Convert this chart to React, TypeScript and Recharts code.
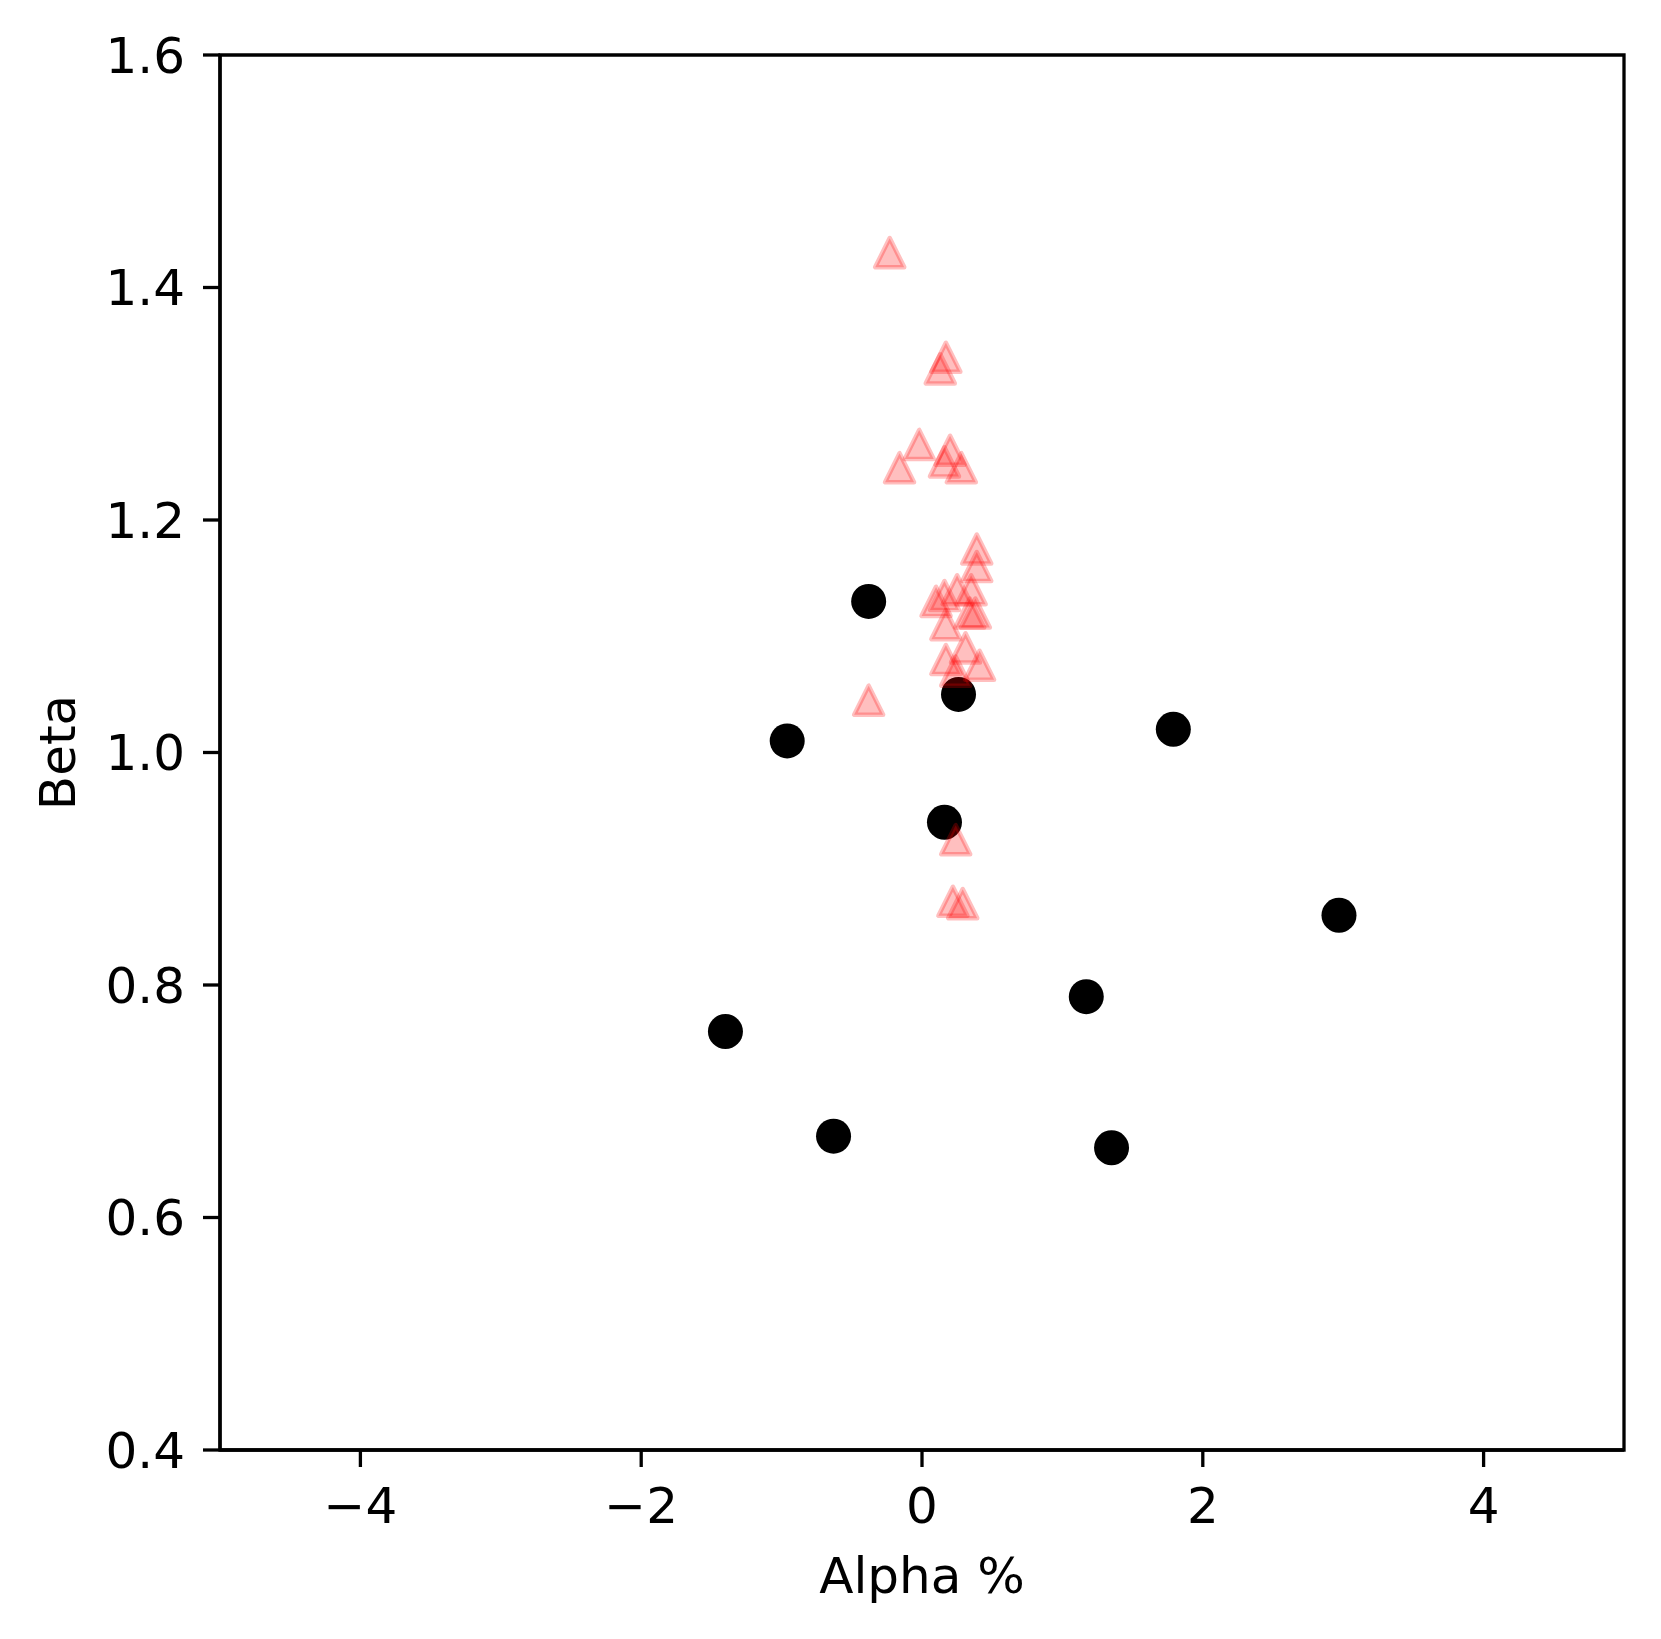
import { ReferenceArea, Scatter, ScatterChart, XAxis, YAxis } from 'recharts';

const circleAlpha = [-0.38, 0.26, -0.96, 1.79, 0.16, 2.97, 1.17, -1.4, -0.63, 1.35];
const circleBeta = [1.13, 1.05, 1.01, 1.02, 0.94, 0.86, 0.79, 0.76, 0.67, 0.66];

const triangleAlpha = [
  -0.23, 0.17, 0.13, -0.02, -0.16, 0.2, 0.16, 0.28, 0.39, 0.39, 0.25, 0.16, 0.1,
  0.35, 0.34, 0.38, 0.17, 0.31, 0.17, 0.41, 0.24, -0.38, 0.24, 0.22, 0.29
];
const triangleBeta = [
  1.43, 1.34, 1.33, 1.265, 1.245, 1.26, 1.25, 1.245, 1.175, 1.16, 1.14, 1.135, 1.13,
  1.14, 1.12, 1.12, 1.11, 1.09, 1.08, 1.075, 1.07, 1.045, 0.925, 0.872, 0.87
];

const xTicks = [-4, -2, 0, 2, 4];
const yTicks = [0.4, 0.6, 0.8, 1.0, 1.2, 1.4, 1.6];

const FONT = '"DejaVu Sans", sans-serif';

const circles = circleAlpha.map((a, i) => ({ alpha: a, beta: circleBeta[i] }));
const triangles = triangleAlpha.map((a, i) => ({ alpha: a, beta: triangleBeta[i] }));

function Triangle(props: any) {
  const { cx, cy } = props;
  const h = 14.5;
  return (
    <path
      d={`M${cx},${cy - h}L${cx - h},${cy + h}L${cx + h},${cy + h}Z`}
      fill="#ff0000"
      fillOpacity={0.25}
      stroke="#ff0000"
      strokeOpacity={0.25}
      strokeWidth={4.5}
      strokeLinejoin="round"
    />
  );
}

function Dot(props: any) {
  return <circle cx={props.cx} cy={props.cy} r={17.5} fill="#000" />;
}

const tickStyle = { fill: '#000', fontSize: 50, fontFamily: FONT };

export default function App() {
  return (
    <div style={{ width: 1645, height: 1623 }}>
      <ScatterChart width={1645} height={1623} margin={{ top: 47, right: 29, bottom: 31, left: 0 }}>
        <XAxis
          type="number"
          dataKey="alpha"
          domain={[-5, 5]}
          ticks={xTicks}
          interval={0}
          allowDataOverflow
          height={150}
          tickSize={17}
          tickMargin={20}
          tick={tickStyle}
          tickLine={{ stroke: '#000', strokeWidth: 3.3 }}
          axisLine={{ stroke: '#000', strokeWidth: 3.3 }}
          tickFormatter={(v: number) => String(v).replace('-', '\u2212')}
          label={{
            content: ({ viewBox }: any) => (
              <text
                x={viewBox.x + viewBox.width / 2}
                y={viewBox.y + 143}
                textAnchor="middle"
                fontSize={50}
                fontFamily={FONT}
                fill="#000"
              >
                Alpha %
              </text>
            )
          }}
        />
        <YAxis
          type="number"
          dataKey="beta"
          domain={[0.4, 1.6]}
          ticks={yTicks}
          interval={0}
          allowDataOverflow
          width={212}
          tickSize={17}
          tickMargin={18}
          tick={tickStyle}
          tickLine={{ stroke: '#000', strokeWidth: 3.3 }}
          axisLine={{ stroke: '#000', strokeWidth: 3.3 }}
          tickFormatter={(v: number) => v.toFixed(1)}
          label={{
            content: ({ viewBox }: any) => {
              const x = viewBox.x + 67;
              const y = viewBox.y + viewBox.height / 2;
              return (
                <text
                  x={x}
                  y={y}
                  transform={`rotate(-90, ${x}, ${y})`}
                  textAnchor="middle"
                  fontSize={50}
                  fontFamily={FONT}
                  fill="#000"
                >
                  Beta
                </text>
              );
            }
          }}
        />
        <ReferenceArea x1={-5} x2={5} y1={0.4} y2={1.6} fill="none" stroke="#000" strokeWidth={3.3} fillOpacity={0} strokeOpacity={1} />
        <Scatter data={circles} shape={Dot} isAnimationActive={false} />
        <Scatter data={triangles} shape={Triangle} isAnimationActive={false} />
      </ScatterChart>
    </div>
  );
}
